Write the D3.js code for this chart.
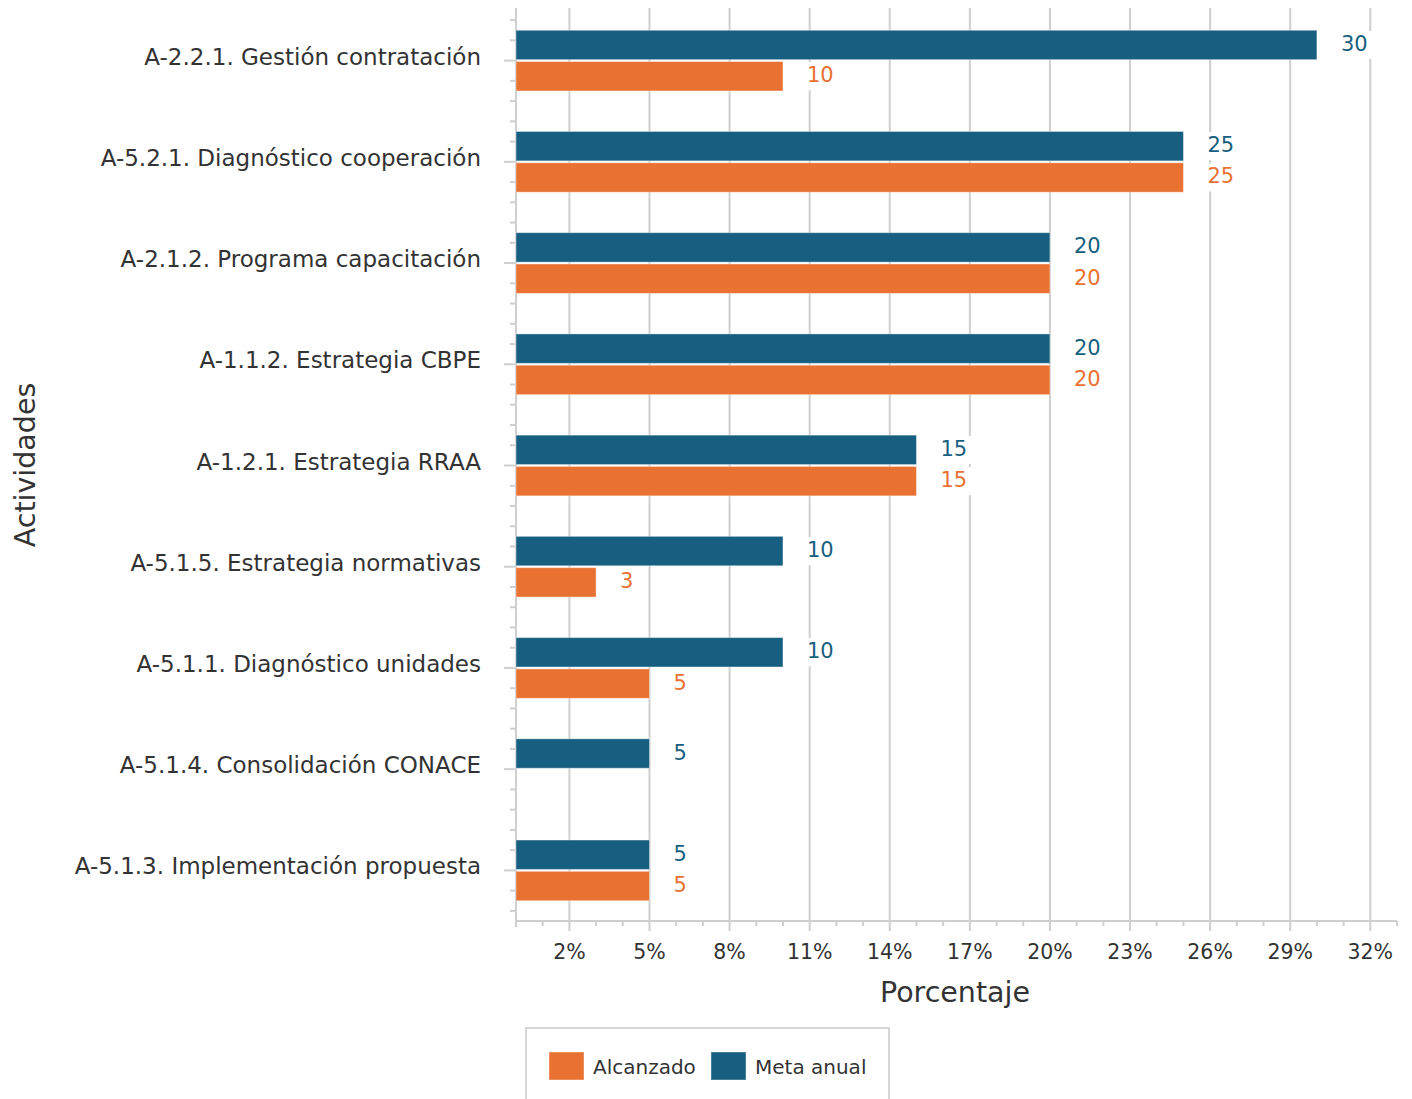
<!DOCTYPE html>
<html>
<head>
<meta charset="utf-8">
<script src="https://cdn.jsdelivr.net/npm/d3@7"></script>
<style>
  body { margin: 0; background: #fff; }
  text { font-family: "DejaVu Sans", Verdana, sans-serif; }
</style>
</head>
<body>
<div id="chart"></div>
<script>
// data
var actividades = [
  "A-2.2.1. Gestión contratación",
  "A-5.2.1. Diagnóstico cooperación",
  "A-2.1.2. Programa capacitación",
  "A-1.1.2. Estrategia CBPE",
  "A-1.2.1. Estrategia RRAA",
  "A-5.1.5. Estrategia normativas",
  "A-5.1.1. Diagnóstico unidades",
  "A-5.1.4. Consolidación CONACE",
  "A-5.1.3. Implementación propuesta"
];
var metaAnual = [30, 25, 20, 20, 15, 10, 10, 5, 5];
var alcanzado = [10, 25, 20, 20, 15, 3, 5, null, 5];
var xTicks = [2, 5, 8, 11, 14, 17, 20, 23, 26, 29, 32];
var series = ["Meta anual", "Alcanzado"];
var legendOrder = ["Alcanzado", "Meta anual"];
var colores = {"Meta anual": "#175f80", "Alcanzado": "#e97132"};

var W = 1412, H = 1099;
var plotLeft = 516, plotRight = 1397, plotTop = 10, plotBottom = 921;

var svg = d3.select("#chart").append("svg")
  .attr("width", W)
  .attr("height", H);

var x = d3.scaleLinear().domain([0, 33]).range([plotLeft, plotRight]);
var y = d3.scaleBand().domain(actividades).range([plotTop, plotBottom])
  .paddingInner(0.4).paddingOuter(0.2);
var ySub = d3.scaleBand().domain(series).range([0, y.bandwidth()]).paddingInner(0.06);
var step = y.step();

// gridlines
svg.append("g").selectAll("line")
  .data(xTicks)
  .enter().append("line")
  .attr("x1", d => x(d)).attr("x2", d => x(d))
  .attr("y1", 8).attr("y2", plotBottom + 10)
  .style("stroke", "#cfcfcf")
  .style("stroke-width", 2);

// minor x ticks
var minorX = d3.range(1, 34).filter(d => xTicks.indexOf(d) < 0);
svg.append("g").selectAll("line")
  .data(minorX)
  .enter().append("line")
  .attr("x1", d => x(d)).attr("x2", d => x(d))
  .attr("y1", plotBottom).attr("y2", plotBottom + 5)
  .style("stroke", "#cfcfcf")
  .style("stroke-width", 2);

// x axis line
svg.append("line")
  .attr("x1", plotLeft).attr("x2", plotRight)
  .attr("y1", plotBottom).attr("y2", plotBottom)
  .style("stroke", "#cfcfcf").style("stroke-width", 2);

// y axis line + ticks
svg.append("line")
  .attr("x1", plotLeft).attr("x2", plotLeft)
  .attr("y1", 8).attr("y2", plotBottom + 6)
  .style("stroke", "#cfcfcf").style("stroke-width", 2);

var yTicks = [];
actividades.forEach(function (a) {
  var c = y(a) + y.bandwidth() / 2;
  for (var k = -2; k <= 2; k++) {
    var yy = c + k * step / 5;
    if (yy > plotTop + 2 && yy < plotBottom) yTicks.push({y: yy, major: k == 0});
  }
});
svg.append("g").selectAll("line")
  .data(yTicks)
  .enter().append("line")
  .attr("x1", d => d.major ? plotLeft - 12 : plotLeft - 6).attr("x2", plotLeft)
  .attr("y1", d => d.y).attr("y2", d => d.y)
  .style("stroke", "#cfcfcf")
  .style("stroke-width", 2);

// x tick labels
svg.append("g").selectAll("text")
  .data(xTicks)
  .enter().append("text")
  .attr("x", d => x(d))
  .attr("y", 959)
  .attr("text-anchor", "middle")
  .style("font-size", "20.5px")
  .style("fill", "#333")
  .text(d => d + "%");

// category labels
svg.append("g").selectAll("text")
  .data(actividades)
  .enter().append("text")
  .attr("x", 481)
  .attr("y", d => y(d) + y.bandwidth() / 2 + 4)
  .attr("text-anchor", "end")
  .style("font-size", "23px")
  .style("fill", "#333")
  .text(d => d);

// bars + value labels
var rows = actividades.map(function (a, i) {
  return [{cat: a, s: "Meta anual", v: metaAnual[i]}, {cat: a, s: "Alcanzado", v: alcanzado[i]}];
});
var flat = [].concat.apply([], rows).filter(d => d.v != null);

svg.append("g").selectAll("rect")
  .data(flat)
  .enter().append("rect")
  .attr("x", x(0))
  .attr("y", d => y(d.cat) + ySub(d.s))
  .attr("width", d => x(d.v) - x(0))
  .attr("height", ySub.bandwidth())
  .style("fill", d => colores[d.s])
  .style("stroke", "#fff")
  .style("stroke-opacity", 0.4)
  .style("stroke-width", 1);

var labels = svg.append("g").selectAll("g")
  .data(flat)
  .enter().append("g")
  .attr("transform", d => "translate(" + (x(d.v) + 24) + "," + (y(d.cat) + ySub(d.s) + ySub.bandwidth() / 2) + ")");
labels.append("rect")
  .attr("x", -4).attr("y", -14)
  .attr("width", d => String(d.v).length * 14 + 8)
  .attr("height", 28)
  .style("fill", "#fff");
labels.append("text")
  .attr("y", 6)
  .style("font-size", "21px")
  .style("fill", d => colores[d.s])
  .text(d => d.v);

// axis titles
svg.append("text")
  .attr("x", 955).attr("y", 1002)
  .attr("text-anchor", "middle")
  .style("font-size", "28.5px")
  .style("fill", "#333")
  .text("Porcentaje");

svg.append("text")
  .attr("transform", "translate(35,465) rotate(-90)")
  .attr("text-anchor", "middle")
  .style("font-size", "28.5px")
  .style("fill", "#333")
  .text("Actividades");

// legend
var legend = svg.append("g");
legend.append("rect")
  .attr("x", 526).attr("y", 1028)
  .attr("width", 363).attr("height", 90)
  .style("fill", "#fff")
  .style("stroke", "#d6d6d6")
  .style("stroke-width", 2);
var legX = [549, 711];
legendOrder.forEach(function (s, i) {
  legend.append("rect")
    .attr("x", legX[i]).attr("y", 1052)
    .attr("width", 35).attr("height", 28)
    .style("fill", colores[s])
    .style("stroke", "#fff").style("stroke-opacity", 0.4);
  legend.append("text")
    .attr("x", legX[i] + 44).attr("y", 1074)
    .style("font-size", "20px")
    .style("fill", "#333")
    .text(s);
});
</script>
</body>
</html>
